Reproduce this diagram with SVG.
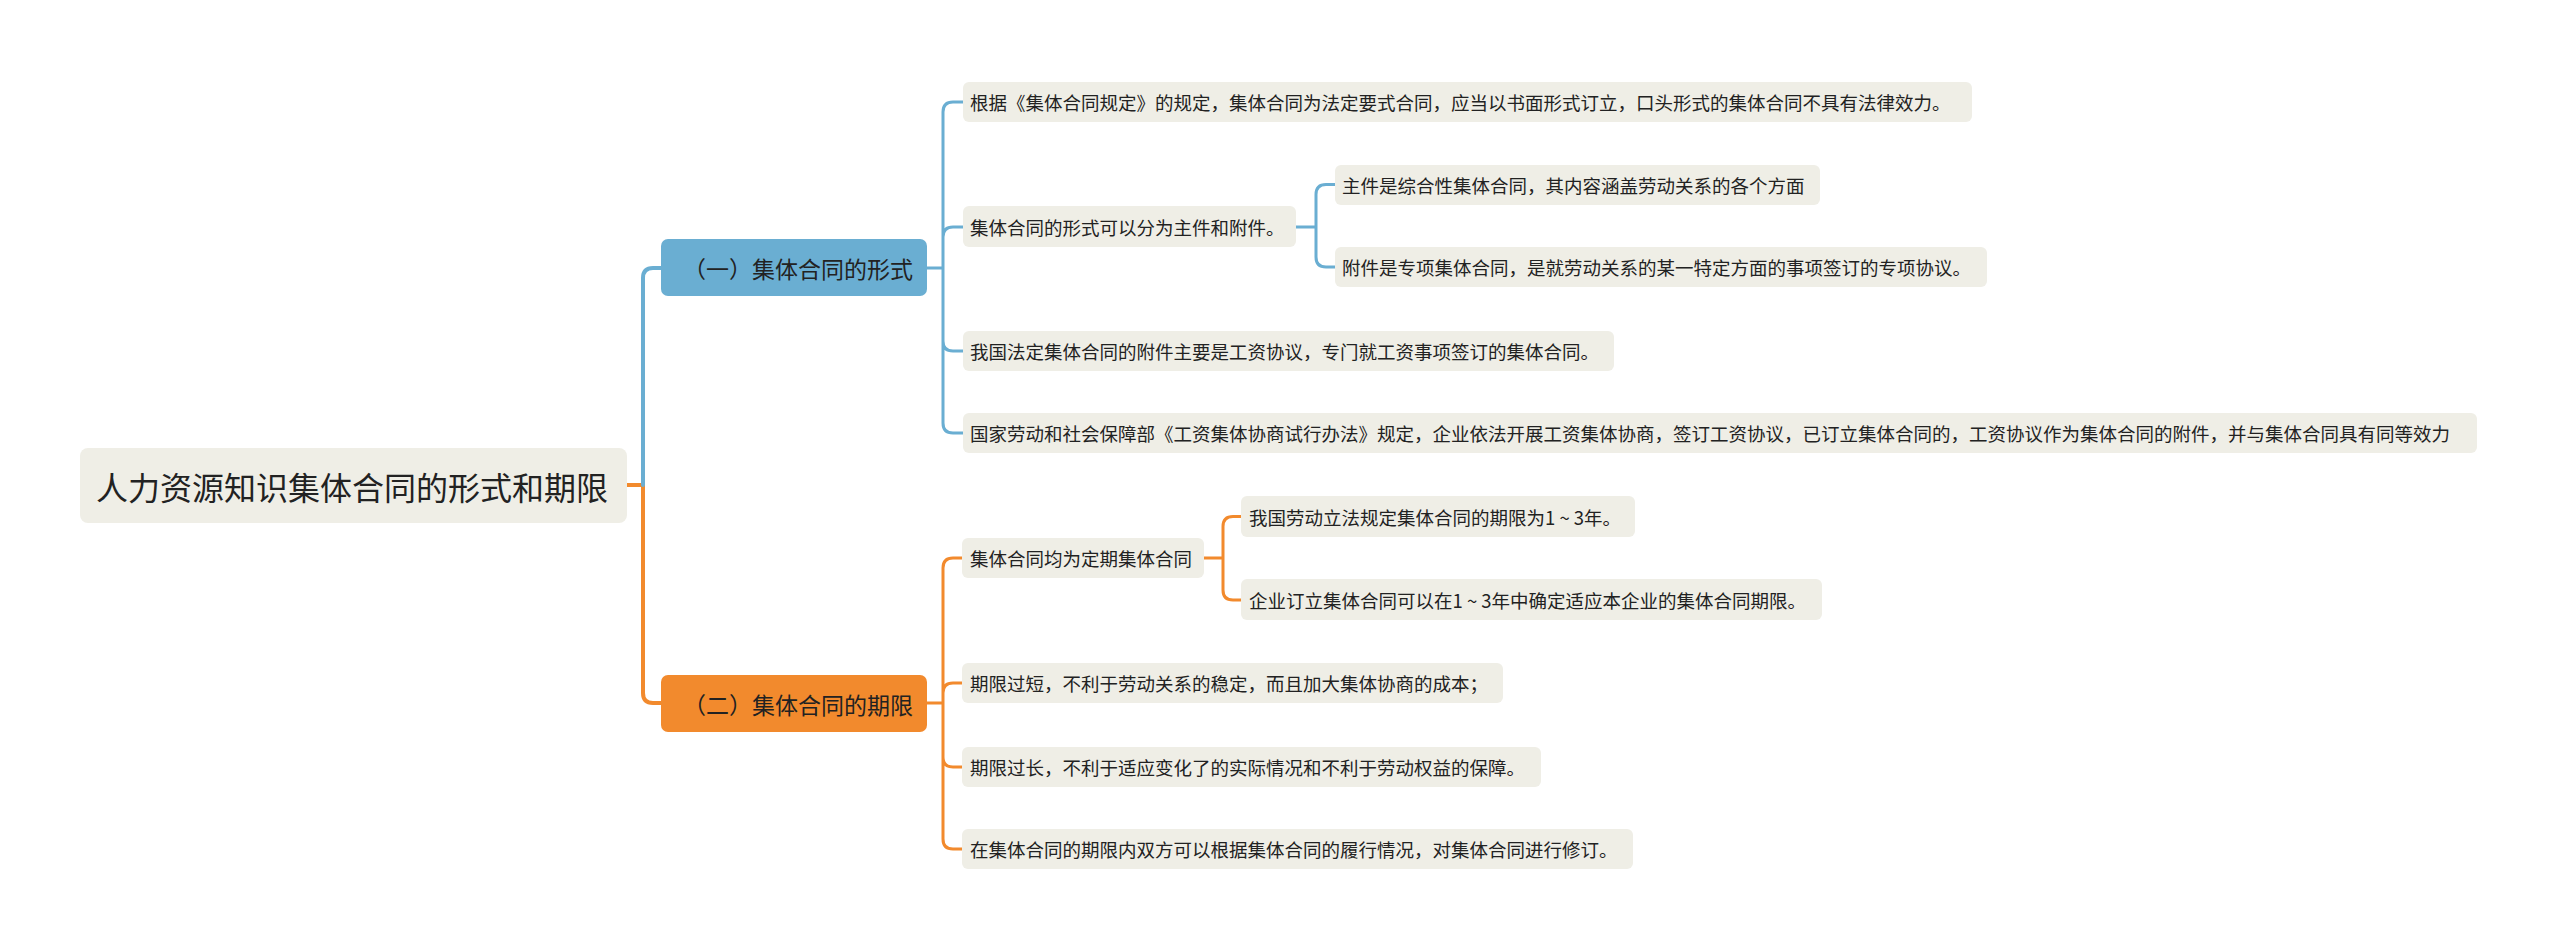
<svg xmlns="http://www.w3.org/2000/svg" width="2560" height="951" viewBox="0 0 2560 951">
<style>
.bg{fill:#ffffff}
.leaf{fill:#efeee6}
.t{font-family:"Noto Sans CJK SC","Noto Sans",sans-serif;fill:#222222;dominant-baseline:central}
.s{font-size:18.5px}
.b{font-size:23px}
.r{font-size:32px}
.cb{fill:none;stroke:#6aaed2;stroke-linecap:round;stroke-linejoin:round}
.co{fill:none;stroke:#f28a2d;stroke-linecap:round;stroke-linejoin:round}
.w4{stroke-width:4}
.w3{stroke-width:3}
</style>
<rect class="bg" x="0" y="0" width="2560" height="951"/>
<g id="connectors">
<path class="co w4" d="M627,485 H643 V693 Q643,703 653,703 H661"/>
<path class="cb w4" d="M643,485 V278 Q643,268 653,268 H661"/>
<path class="cb w3" d="M927,268 H943 M943,268 V112 Q943,102 953,102 H963 M943,268 V237 Q943,227 953,227 H963 M943,268 V341 Q943,351 953,351 H963 M943,268 V423 Q943,433 953,433 H963"/>
<path class="cb w3" d="M1296,227 H1316 M1316,227 V194.5 Q1316,184.5 1326,184.5 H1335 M1316,227 V257 Q1316,267 1326,267 H1335"/>
<path class="co w3" d="M927,703 H943 M943,703 V568 Q943,558 953,558 H962 M943,703 V693 Q943,683 953,683 H962 M943,703 V757 Q943,767 953,767 H962 M943,703 V839 Q943,849 953,849 H962"/>
<path class="co w3" d="M1204,558 H1223 M1223,558 V526.5 Q1223,516.5 1233,516.5 H1241 M1223,558 V590 Q1223,600 1233,600 H1241"/>
</g>
<g id="root">
<rect class="leaf" x="80" y="448" width="547" height="75" rx="8"/>
<text class="t r" x="96" y="486">人力资源知识集体合同的形式和期限</text>
</g>
<g id="branch1">
<rect x="661" y="239" width="266" height="57" rx="7" fill="#6aaed2"/>
<text class="t b" x="683" y="268">（一）集体合同的形式</text>
</g>
<g id="branch2">
<rect x="661" y="675" width="266" height="57" rx="7" fill="#f28a2d"/>
<text class="t b" x="683" y="704">（二）集体合同的期限</text>
</g>
<g id="a1">
<rect class="leaf" x="963" y="82" width="1009" height="40" rx="6"/>
<text class="t s" x="970" y="102">根据《集体合同规定》的规定，集体合同为法定要式合同，应当以书面形式订立，口头形式的集体合同不具有法律效力。</text>
</g>
<g id="a2">
<rect class="leaf" x="963" y="206" width="333" height="41" rx="6"/>
<text class="t s" x="970" y="227">集体合同的形式可以分为主件和附件。</text>
</g>
<g id="a2-1">
<rect class="leaf" x="1335" y="165" width="485" height="40" rx="6"/>
<text class="t s" x="1342" y="185">主件是综合性集体合同，其内容涵盖劳动关系的各个方面</text>
</g>
<g id="a2-2">
<rect class="leaf" x="1335" y="247" width="652" height="40" rx="6"/>
<text class="t s" x="1342" y="267">附件是专项集体合同，是就劳动关系的某一特定方面的事项签订的专项协议。</text>
</g>
<g id="a3">
<rect class="leaf" x="963" y="331" width="651" height="40" rx="6"/>
<text class="t s" x="970" y="351">我国法定集体合同的附件主要是工资协议，专门就工资事项签订的集体合同。</text>
</g>
<g id="a4">
<rect class="leaf" x="963" y="413" width="1514" height="40" rx="6"/>
<text class="t s" x="970" y="433">国家劳动和社会保障部《工资集体协商试行办法》规定，企业依法开展工资集体协商，签订工资协议，已订立集体合同的，工资协议作为集体合同的附件，并与集体合同具有同等效力</text>
</g>
<g id="b1">
<rect class="leaf" x="962" y="538" width="242" height="40" rx="6"/>
<text class="t s" x="970" y="558">集体合同均为定期集体合同</text>
</g>
<g id="b1-1">
<rect class="leaf" x="1241" y="496" width="394" height="41" rx="6"/>
<text class="t s" x="1249" y="517">我国劳动立法规定集体合同的期限为1 ~ 3年。</text>
</g>
<g id="b1-2">
<rect class="leaf" x="1241" y="579" width="581" height="41" rx="6"/>
<text class="t s" x="1249" y="600">企业订立集体合同可以在1 ~ 3年中确定适应本企业的集体合同期限。</text>
</g>
<g id="b2">
<rect class="leaf" x="962" y="663" width="541" height="40" rx="6"/>
<text class="t s" x="970" y="683">期限过短，不利于劳动关系的稳定，而且加大集体协商的成本；</text>
</g>
<g id="b3">
<rect class="leaf" x="962" y="747" width="579" height="40" rx="6"/>
<text class="t s" x="970" y="767">期限过长，不利于适应变化了的实际情况和不利于劳动权益的保障。</text>
</g>
<g id="b4">
<rect class="leaf" x="962" y="829" width="671" height="40" rx="6"/>
<text class="t s" x="970" y="849">在集体合同的期限内双方可以根据集体合同的履行情况，对集体合同进行修订。</text>
</g>
</svg>
